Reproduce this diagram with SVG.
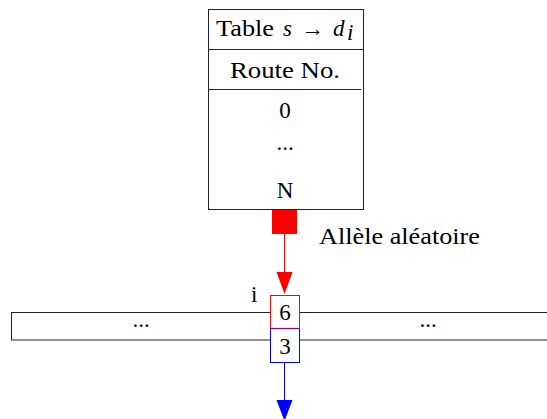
<svg xmlns="http://www.w3.org/2000/svg" width="547" height="419" viewBox="0 0 547 419">
<defs>
<style>
text{font-family:"Liberation Serif","Times New Roman",serif;font-size:23px;fill:#000}
.c{text-anchor:middle}
.it{font-style:italic}
.blk{fill:none;stroke:#222;stroke-width:1}
</style>
</defs>
<rect width="547" height="419" fill="#fff"/>
<g id="table">
<rect class="blk" x="208.5" y="9.5" width="155" height="200" fill="#fff"/>
<line class="blk" x1="208.5" y1="49.5" x2="363.5" y2="49.5"/>
<line class="blk" x1="208.5" y1="89.5" x2="361" y2="89.5"/>
<text x="216" y="36" textLength="58" lengthAdjust="spacingAndGlyphs">Table</text>
<text class="it" x="283" y="36">s</text>
<text x="301" y="36" font-family="'Noto Sans CJK SC',sans-serif" font-size="25" font-weight="300">→</text>
<text class="it" x="333" y="36">d</text>
<text class="it" x="347" y="40" font-size="16">i</text>
<text class="c" x="285" y="78" textLength="110" lengthAdjust="spacingAndGlyphs">Route No.</text>
<text class="c" x="285" y="118">0</text>
<text class="c" x="285" y="150">...</text>
<text class="c" x="285" y="198">N</text>
</g>
<g id="allele">
<rect x="272" y="210" width="25" height="24" fill="red"/>
<text x="319" y="244" textLength="161" lengthAdjust="spacingAndGlyphs">Allèle aléatoire</text>
</g>
<g id="bar">
<rect class="blk" x="11.5" y="312.5" width="545" height="27.5" fill="#fff"/>
<text class="c" x="141" y="327">...</text>
<text class="c" x="428" y="327">...</text>
<text x="251" y="302">i</text>
</g>
<g id="box6">
<rect x="270.5" y="295.5" width="29" height="33" fill="#fff" stroke="red" stroke-width="1"/>
<text class="c" x="285" y="320">6</text>
</g>
<g id="box3">
<rect x="270.5" y="328.5" width="29" height="34" fill="#fff" stroke="blue" stroke-width="1"/>
<line x1="270.5" y1="328.5" x2="299.5" y2="328.5" stroke="#a0007a" stroke-width="1.2"/>
<text class="c" x="285" y="354">3</text>
</g>
<g id="connectors">
<line x1="284.5" y1="234" x2="284.5" y2="273" stroke="red" stroke-width="1"/>
<path d="M276.5,272 L292.5,272 L284.5,294 Z" fill="red"/>
<line x1="284.5" y1="362.5" x2="284.5" y2="401" stroke="blue" stroke-width="1"/>
<path d="M276.5,400 L292.5,400 L284.5,421 Z" fill="blue"/>
</g>
</svg>
